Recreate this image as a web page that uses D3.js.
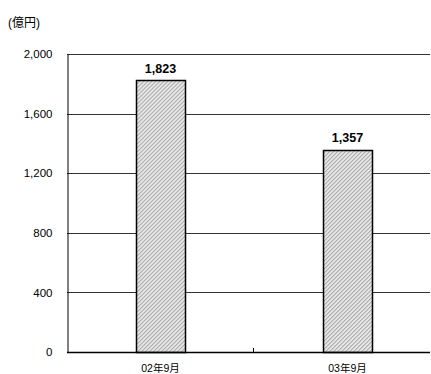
<!DOCTYPE html>
<html><head><meta charset="utf-8">
<script src="https://cdn.jsdelivr.net/npm/d3@7/dist/d3.min.js"></script>
<style>body{margin:0;background:#fff}svg{display:block}text{font-family:"Liberation Sans",Arial,"Noto Sans CJK JP",sans-serif}</style>
</head><body>
<svg id="c" width="431" height="374"></svg>
<script>
const categories = ["02年9月", "03年9月"];
const values = [1823, 1357];
const valueLabels = ["1,823", "1,357"];
const yTicks = [0, 400, 800, 1200, 1600, 2000];
const yTickLabels = ["0", "400", "800", "1,200", "1,600", "2,000"];
const unitLabel = "(億円)";

(function () {
const svg = d3.select("#c");
const mLeft = 67, mRight = 430, mTop = 54, mBottom = 352;
const x = d3.scaleBand().domain(categories).range([mLeft, 441]).paddingInner(0).paddingOuter(0);
const y = d3.scaleLinear().domain([0, 2000]).range([mBottom, mTop]);

const defs = svg.append("defs");
const pat = defs.append("pattern").attr("id", "hatch").attr("patternUnits", "userSpaceOnUse")
  .attr("width", 2.83).attr("height", 2.83).attr("patternTransform", "rotate(45)");
pat.append("rect").attr("width", 2.83).attr("height", 2.83).attr("fill", "#f4f4f4");
pat.append("line").attr("x1", 0.7).attr("y1", 0).attr("x2", 0.7).attr("y2", 2.83)
  .attr("stroke", "#a6a6a6").attr("stroke-width", 1.2);

// gridlines
svg.append("g").selectAll("line").data(yTicks.filter(d => d > 0)).join("line")
  .attr("x1", mLeft).attr("x2", mRight).attr("y1", d => Math.round(y(d)) + 0.5).attr("y2", d => Math.round(y(d)) + 0.5)
  .attr("stroke", "#333").attr("stroke-width", 1);

// y axis
const yAxis = d3.axisLeft(y).tickValues(yTicks).tickFormat((d, i) => yTickLabels[i]).tickSize(0).tickPadding(15);
const ya = svg.append("g").attr("transform", `translate(${mLeft + 0.5},0)`).call(yAxis);
ya.select(".domain").attr("stroke", "#000");
ya.selectAll("text").attr("font-size", 11.5).attr("fill", "#000");

// bars
const bw = 49;
svg.append("g").selectAll("rect").data(values).join("rect")
  .attr("x", (d, i) => Math.round(x(categories[i]) + x.bandwidth() / 2 - bw / 2) + 0.5)
  .attr("y", d => Math.round(y(d)) + 0.5)
  .attr("width", bw)
  .attr("height", d => Math.round(y(0)) - Math.round(y(d)))
  .attr("fill", "url(#hatch)").attr("stroke", "#000").attr("stroke-width", 1.5);

// x axis baseline
svg.append("line").attr("x1", mLeft).attr("x2", mRight).attr("y1", mBottom + 0.5).attr("y2", mBottom + 0.5)
  .attr("stroke", "#000").attr("stroke-width", 1.5);
// center tick between categories
svg.append("line").attr("x1", x(categories[1]) - 0.5).attr("x2", x(categories[1]) - 0.5)
  .attr("y1", mBottom - 4).attr("y2", mBottom).attr("stroke", "#000");

// category labels
svg.append("g").selectAll("text").data(categories).join("text")
  .attr("x", d => x(d) + x.bandwidth() / 2).attr("y", 372)
  .attr("text-anchor", "middle").attr("font-size", 10.5).text(d => d);

// value labels
svg.append("g").selectAll("text").data(values).join("text")
  .attr("x", (d, i) => x(categories[i]) + x.bandwidth() / 2).attr("y", d => y(d) - 7.5)
  .attr("text-anchor", "middle").attr("font-size", 12.5).attr("font-weight", "bold").text((d, i) => valueLabels[i]);

svg.append("text").attr("x", 8).attr("y", 27).attr("font-size", 12).text(unitLabel);
})();
</script>
</body></html>
